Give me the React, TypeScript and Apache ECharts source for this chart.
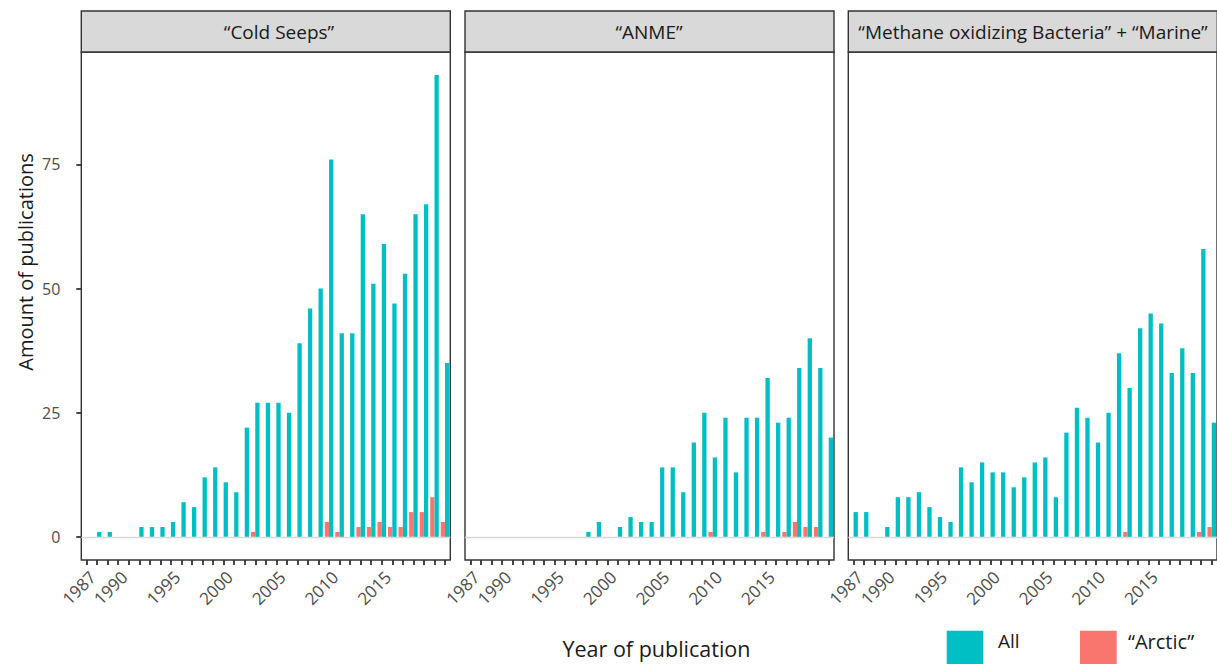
import React, { useEffect, useRef } from "react";
import * as echarts from "echarts";

const years = [
  "1987", "1988", "1989", "1990", "1991", "1992", "1993", "1994", "1995", "1996",
  "1997", "1998", "1999", "2000", "2001", "2002", "2003", "2004", "2005", "2006",
  "2007", "2008", "2009", "2010", "2011", "2012", "2013", "2014", "2015", "2016",
  "2017", "2018", "2019", "2020", "2021",
];
const xTickLabels = ["1987", "1990", "1995", "2000", "2005", "2010", "2015"];
const yTickValues = [0, 25, 50, 75];
const panelTitles = [
  "\u201CCold Seeps\u201D",
  "\u201CANME\u201D",
  "\u201CMethane oxidizing Bacteria\u201D + \u201CMarine\u201D",
];
const seriesNames = ["\u201CArctic\u201D", "All"];

const coldSeepsAll = [0, 1, 1, 0, 0, 2, 2, 2, 3, 7, 6, 12, 14, 11, 9, 22, 27, 27, 27, 25, 39, 46, 50, 76, 41, 41, 65, 51, 59, 47, 53, 65, 67, 93, 35];
const coldSeepsArctic = [0, 0, 0, 0, 0, 0, 0, 0, 0, 0, 0, 0, 0, 0, 0, 0, 1, 0, 0, 0, 0, 0, 0, 3, 1, 0, 2, 2, 3, 2, 2, 5, 5, 8, 3];
const anmeAll = [0, 0, 0, 0, 0, 0, 0, 0, 0, 0, 0, 1, 3, 0, 2, 4, 3, 3, 14, 14, 9, 19, 25, 16, 24, 13, 24, 24, 32, 23, 24, 34, 40, 34, 20];
const anmeArctic = [0, 0, 0, 0, 0, 0, 0, 0, 0, 0, 0, 0, 0, 0, 0, 0, 0, 0, 0, 0, 0, 0, 0, 1, 0, 0, 0, 0, 1, 0, 1, 3, 2, 2, 0];
const methaneAll = [5, 5, 0, 2, 8, 8, 9, 6, 4, 3, 14, 11, 15, 13, 13, 10, 12, 15, 16, 8, 21, 26, 24, 19, 25, 37, 30, 42, 45, 43, 33, 38, 33, 58, 23];
const methaneArctic = [0, 0, 0, 0, 0, 0, 0, 0, 0, 0, 0, 0, 0, 0, 0, 0, 0, 0, 0, 0, 0, 0, 0, 0, 0, 0, 1, 0, 0, 0, 0, 0, 0, 1, 2];

const allData = [coldSeepsAll, anmeAll, methaneAll];
const arcticData = [coldSeepsArctic, anmeArctic, methaneArctic];

export default function App() {
  const ref = useRef<HTMLDivElement>(null);
  useEffect(() => {
    if (!ref.current) return;
    const chart = echarts.init(ref.current, null, { renderer: "svg" });
    const FONT = '"Open Sans", "Noto Sans", sans-serif';
    const TEAL = "#00BFC4";
    const RED = "#F8766D";
    const panelLefts = [81.3, 465, 848.3];
    const titleCenters = [279, 649, 1033];
    const panelWidth = 369;
    const gridTop = 52;
    const gridHeight = 508;
    const stripTop = 11;

    const grids = panelLefts.map((l) => ({
      left: l,
      top: gridTop,
      width: panelWidth,
      height: gridHeight,
      show: true,
      borderColor: "#333333",
      borderWidth: 1.4,
      backgroundColor: "#ffffff",
      containLabel: false,
    }));

    const xAxes = panelLefts.map((_, i) => ({
      type: "category",
      gridIndex: i,
      data: years,
      boundaryGap: true,
      axisLine: { show: false, onZero: false },
      axisTick: {
        show: true,
        alignWithLabel: true,
        interval: 0,
        length: 5,
        lineStyle: { color: "#333333", width: 1.8 },
      },
      axisLabel: {
        interval: (_idx: number, v: string) => xTickLabels.includes(v),
        rotate: 45,
        fontSize: 17,
        color: "#4d4d4d",
        fontFamily: FONT,
        margin: 8,
        align: "right",
        verticalAlign: "top",
      },
      splitLine: { show: false },
    }));

    const yAxes = panelLefts.map((_, i) => ({
      type: "value",
      gridIndex: i,
      min: -4.65,
      max: 97.65,
      axisLine: { show: false },
      axisTick: {
        show: i === 0,
        length: 5,
        customValues: yTickValues,
        lineStyle: { color: "#333333", width: 1.8 },
      },
      axisLabel: {
        show: i === 0,
        customValues: yTickValues,
        fontSize: 16,
        color: "#4d4d4d",
        fontFamily: FONT,
        margin: 21,
      },
      splitLine: { show: false },
    }));

    const series: any[] = [];
    panelLefts.forEach((_, i) => {
      series.push({
        type: "bar",
        name: seriesNames[0],
        xAxisIndex: i,
        yAxisIndex: i,
        data: arcticData[i],
        barWidth: 4.3,
        barGap: "0%",
        itemStyle: { color: RED },
        z: 3,
      });
      series.push({
        type: "bar",
        name: seriesNames[1],
        xAxisIndex: i,
        yAxisIndex: i,
        data: allData[i],
        barWidth: 4.3,
        barGap: "0%",
        itemStyle: { color: TEAL },
        z: 3,
        markLine: {
          silent: true,
          symbol: ["none", "none"],
          label: { show: false },
          lineStyle: { color: "#d9d9d9", width: 1.3, type: "solid" },
          data: [{ yAxis: 0 }],
        },
      });
    });

    const graphics: any[] = [];
    panelLefts.forEach((l, i) => {
      graphics.push({
        type: "rect",
        shape: { x: l, y: stripTop, width: panelWidth, height: gridTop - stripTop },
        style: { fill: "#d9d9d9", stroke: "#333333", lineWidth: 1.4 },
        z: 10,
      });
      graphics.push({
        type: "text",
        x: titleCenters[i],
        y: (stripTop + gridTop) / 2,
        style: {
          text: panelTitles[i],
          textAlign: "center",
          textVerticalAlign: "middle",
          fontSize: 19,
          fontFamily: FONT,
          fill: "#1a1a1a",
        },
        z: 11,
      });
    });
    graphics.push({
      type: "text",
      x: 25,
      y: 262,
      rotation: Math.PI / 2,
      style: {
        text: "Amount of publications",
        textAlign: "center",
        textVerticalAlign: "middle",
        fontSize: 20,
        fontFamily: FONT,
        fill: "#1a1a1a",
      },
    });
    graphics.push({
      type: "text",
      x: 656.5,
      y: 648,
      style: {
        text: "Year of publication",
        textAlign: "center",
        textVerticalAlign: "middle",
        fontSize: 21.5,
        fontFamily: FONT,
        fill: "#1a1a1a",
      },
    });
    graphics.push({
      type: "rect",
      shape: { x: 946.7, y: 630.7, width: 36.6, height: 40 },
      style: { fill: TEAL },
    });
    graphics.push({
      type: "text",
      x: 998,
      y: 641,
      style: {
        text: seriesNames[1],
        textAlign: "left",
        textVerticalAlign: "middle",
        fontSize: 19,
        fontFamily: FONT,
        fill: "#1a1a1a",
      },
    });
    graphics.push({
      type: "rect",
      shape: { x: 1080, y: 630.7, width: 36.7, height: 40 },
      style: { fill: RED },
    });
    graphics.push({
      type: "text",
      x: 1128,
      y: 641,
      style: {
        text: seriesNames[0],
        textAlign: "left",
        textVerticalAlign: "middle",
        fontSize: 20,
        fontFamily: FONT,
        fill: "#1a1a1a",
      },
    });

    chart.setOption({
      animation: false,
      backgroundColor: "#ffffff",
      grid: grids,
      xAxis: xAxes,
      yAxis: yAxes,
      series,
      graphic: graphics,
    });
    return () => chart.dispose();
  }, []);
  return (
    <div
      ref={ref}
      style={{ position: "fixed", left: 0, top: 0, width: 1217, height: 664, background: "#fff" }}
    />
  );
}
